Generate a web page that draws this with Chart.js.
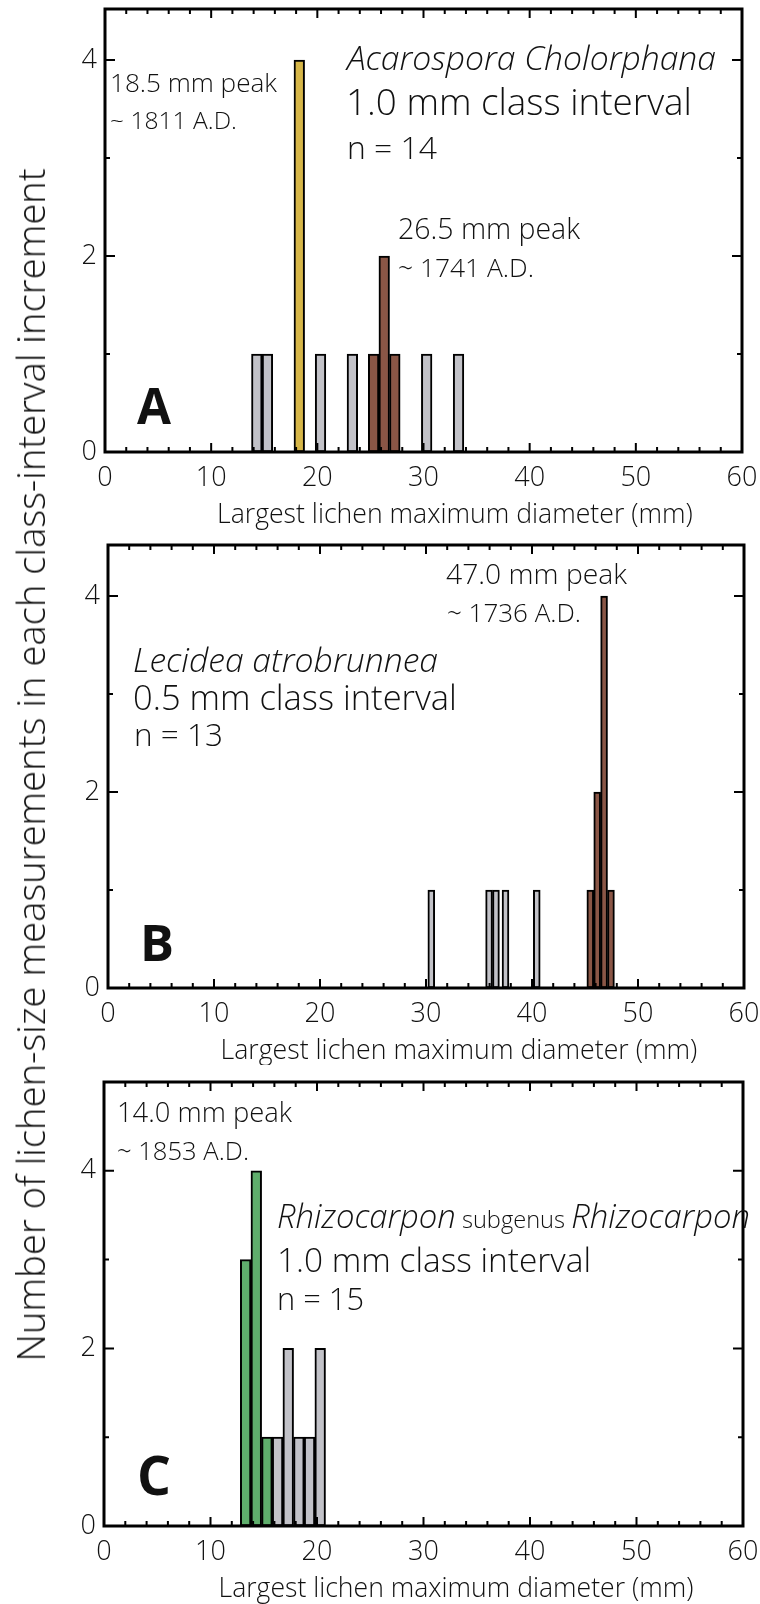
<!DOCTYPE html>
<html>
<head>
<meta charset="utf-8">
<script src="https://cdn.jsdelivr.net/npm/chart.js@4.4.1/dist/chart.umd.min.js"></script>
<style>
  html, body { margin: 0; padding: 0; background: #fff; }
  #wrap { position: relative; width: 760px; height: 1604px; overflow: hidden; }
  canvas { position: absolute; left: 0; }
  #ytitle {
    position: absolute; left: 30px; top: 765px;
    transform: translate(-50%, -50%) rotate(-90deg);
    white-space: nowrap; font: 300 31px 'Open Sans', sans-serif; color: #111;
  }
</style>
</head>
<body>
<div id="wrap">
  <canvas id="chartA" width="760" height="530" style="top:0px"></canvas>
  <canvas id="chartB" width="760" height="535" style="top:530px"></canvas>
  <canvas id="chartC" width="760" height="539" style="top:1065px"></canvas>
  <div id="ytitle">Number of lichen-size measurements in each class-interval increment</div>
</div>
<script>
// tick labels shared by the three panels
const xTickLabels = [0, 10, 20, 30, 40, 50, 60];
const yTickLabels = [0, 2, 4];

// A: Acarospora Cholorphana, 1.0 mm classes (bin centres in mm)
const binsA   = [14.3, 15.3, 18.3, 20.3, 23.3, 25.3, 26.3, 27.3, 30.3, 33.3];
const countsA = [1, 1, 4, 1, 1, 1, 2, 1, 1, 1];
const groupsA = ['other', 'other', 'young', 'other', 'other', 'old', 'old', 'old', 'other', 'other'];

// B: Lecidea atrobrunnea, 0.5 mm classes
const binsB   = [30.5, 35.95, 36.6, 37.5, 40.45, 45.5, 46.15, 46.8, 47.45];
const countsB = [1, 1, 1, 1, 1, 1, 2, 4, 1];
const groupsB = ['other', 'other', 'other', 'other', 'other', 'old', 'old', 'old', 'old'];

// C: Rhizocarpon subgenus Rhizocarpon, 1.0 mm classes
const binsC   = [13.3, 14.3, 15.3, 16.3, 17.3, 18.3, 19.3, 20.3];
const countsC = [3, 4, 1, 1, 2, 1, 1, 2];
const groupsC = ['peak', 'peak', 'peak', 'other', 'other', 'other', 'other', 'other'];

const groupColors = { other: '#c2c2c8', young: '#d6b648', old: '#8a5646', peak: '#5fae6c' };

const FONT = "'Open Sans', sans-serif";
const ink = '#111';

// frame and inward tick marks on all four sides
const frameTicks = {
  id: 'frameTicks',
  afterDatasetsDraw(chart) {
    const { ctx, chartArea: a, scales: { x, y } } = chart;
    ctx.save();
    ctx.strokeStyle = '#000';
    ctx.lineWidth = 2;
    ctx.beginPath();
    x.ticks.forEach(t => {
      const px = x.getPixelForValue(t.value);
      const len = xTickLabels.includes(t.value) ? 9 : 5;
      ctx.moveTo(px, a.bottom); ctx.lineTo(px, a.bottom - len);
      ctx.moveTo(px, a.top); ctx.lineTo(px, a.top + len);
    });
    y.ticks.forEach(t => {
      const py = y.getPixelForValue(t.value);
      const len = yTickLabels.includes(t.value) ? 10 : 5;
      ctx.moveTo(a.left, py); ctx.lineTo(a.left + len, py);
      ctx.moveTo(a.right, py); ctx.lineTo(a.right - len, py);
    });
    ctx.stroke();
    ctx.lineWidth = 3;
    ctx.strokeRect(a.left, a.top, a.right - a.left, a.bottom - a.top);
    ctx.restore();
  }
};

// text notes; each line is scaled so it spans width w like the original figure
function notesPlugin(items, top) {
  return {
    id: 'notes',
    afterDraw(chart) {
      const ctx = chart.ctx;
      ctx.save();
      ctx.fillStyle = ink;
      ctx.textBaseline = 'alphabetic';
      ctx.textAlign = 'left';
      items.forEach(n => {
        const parts = n.parts || [[n.text, n.style, 1]];
        let total = 0;
        parts.forEach(([txt, style, rel]) => {
          ctx.font = `${style} ${100 * rel}px ${FONT}`;
          total += ctx.measureText(txt).width;
        });
        const k = n.w / total;
        let x = n.align === 'center' ? n.x - n.w / 2 : n.x;
        parts.forEach(([txt, style, rel]) => {
          ctx.font = `${style} ${(100 * rel * k).toFixed(2)}px ${FONT}`;
          ctx.fillText(txt, x, n.y - top);
          x += ctx.measureText(txt).width;
        });
      });
      ctx.restore();
    }
  };
}

function histogram(id, bins, counts, groups, yMax, box, items) {
  const ctx = document.getElementById(id).getContext('2d');
  return new Chart(ctx, {
    type: 'bar',
    data: {
      datasets: [{
        data: bins.map((b, i) => ({ x: b, y: counts[i] })),
        backgroundColor: groups.map(g => groupColors[g]),
        borderColor: '#000',
        borderWidth: 2,
        borderSkipped: false,
        barPercentage: 1.0,
        categoryPercentage: 1.0
      }]
    },
    options: {
      responsive: false,
      animation: false,
      layout: { padding: { top: box.top, right: box.right, left: 0, bottom: 0 } },
      plugins: { legend: { display: false }, tooltip: { enabled: false } },
      scales: {
        x: {
          type: 'linear', min: 0, max: 60, offset: false,
          grid: { display: false, drawTicks: false, offset: false },
          border: { display: false },
          ticks: {
            stepSize: 2, autoSkip: false, maxRotation: 0, padding: 10,
            color: ink, font: { family: FONT, size: 27, weight: 300 },
            callback: v => xTickLabels.includes(v) ? String(v) : ''
          },
          afterFit: s => { s.height = box.xH; s.paddingLeft = 0; s.paddingRight = 0; }
        },
        y: {
          min: 0, max: yMax,
          grid: { display: false, drawTicks: false },
          border: { display: false },
          ticks: {
            stepSize: 1, includeBounds: false, padding: 8,
            color: ink, font: { family: FONT, size: 27, weight: 300 },
            callback: v => yTickLabels.includes(v) ? String(v) : ''
          },
          afterFit: s => { s.width = box.yW; s.paddingTop = 0; s.paddingBottom = 0; }
        }
      }
    },
    plugins: [frameTicks, notesPlugin(items, box.canvasTop)]
  });
}

const LT = '300', IT = 'italic 300', BD = 'bold';
const axisTitle = 'Largest lichen maximum diameter (mm)';

histogram('chartA', binsA, countsA, groupsA, 4.52,
  { canvasTop: 0, top: 9, right: 18, yW: 105, xH: 78 }, [
    { text: 'Acarospora Cholorphana', x: 347, y: 70, w: 369, style: IT },
    { text: '1.0 mm class interval', x: 346, y: 115, w: 346, style: LT },
    { text: 'n = 14', x: 347, y: 159, w: 90, style: LT },
    { text: '18.5 mm peak', x: 110, y: 92, w: 167, style: LT },
    { text: '~ 1811 A.D.', x: 110, y: 129, w: 127, style: LT },
    { text: '26.5 mm peak', x: 398, y: 239, w: 182, style: LT },
    { text: '~ 1741 A.D.', x: 398, y: 277, w: 136, style: LT },
    { text: 'A', x: 137, y: 424, w: 34, style: BD },
    { text: axisTitle, x: 455, y: 523, w: 476, style: LT, align: 'center' }
  ]);

histogram('chartB', binsB, countsB, groupsB, 4.52,
  { canvasTop: 530, top: 15, right: 16, yW: 108, xH: 77 }, [
    { text: '47.0 mm peak', x: 446, y: 584, w: 181, style: LT },
    { text: '~ 1736 A.D.', x: 447, y: 622, w: 134, style: LT },
    { text: 'Lecidea atrobrunnea', x: 133, y: 672, w: 305, style: IT },
    { text: '0.5 mm class interval', x: 133, y: 710, w: 324, style: LT },
    { text: 'n = 13', x: 134, y: 746, w: 89, style: LT },
    { text: 'B', x: 140, y: 961, w: 34, style: BD },
    { text: axisTitle, x: 459, y: 1059, w: 477, style: LT, align: 'center' }
  ]);

histogram('chartC', binsC, countsC, groupsC, 5,
  { canvasTop: 1065, top: 17, right: 17, yW: 104, xH: 78 }, [
    { text: '14.0 mm peak', x: 117, y: 1122, w: 175, style: LT },
    { text: '~ 1853 A.D.', x: 117, y: 1160, w: 132, style: LT },
    { x: 277, y: 1228, w: 473, parts: [['Rhizocarpon', IT, 1], [' subgenus ', LT, 0.72], ['Rhizocarpon', IT, 1]] },
    { text: '1.0 mm class interval', x: 277, y: 1272, w: 314, style: LT },
    { text: 'n = 15', x: 277, y: 1310, w: 87, style: LT },
    { text: 'C', x: 137, y: 1495, w: 34, style: BD },
    { text: axisTitle, x: 456, y: 1597, w: 475, style: LT, align: 'center' }
  ]);

// y title stretched over the same length as in the figure
const yt = document.getElementById('ytitle');
yt.style.fontSize = (31 * 1193 / yt.offsetWidth).toFixed(2) + 'px';
</script>
</body>
</html>
